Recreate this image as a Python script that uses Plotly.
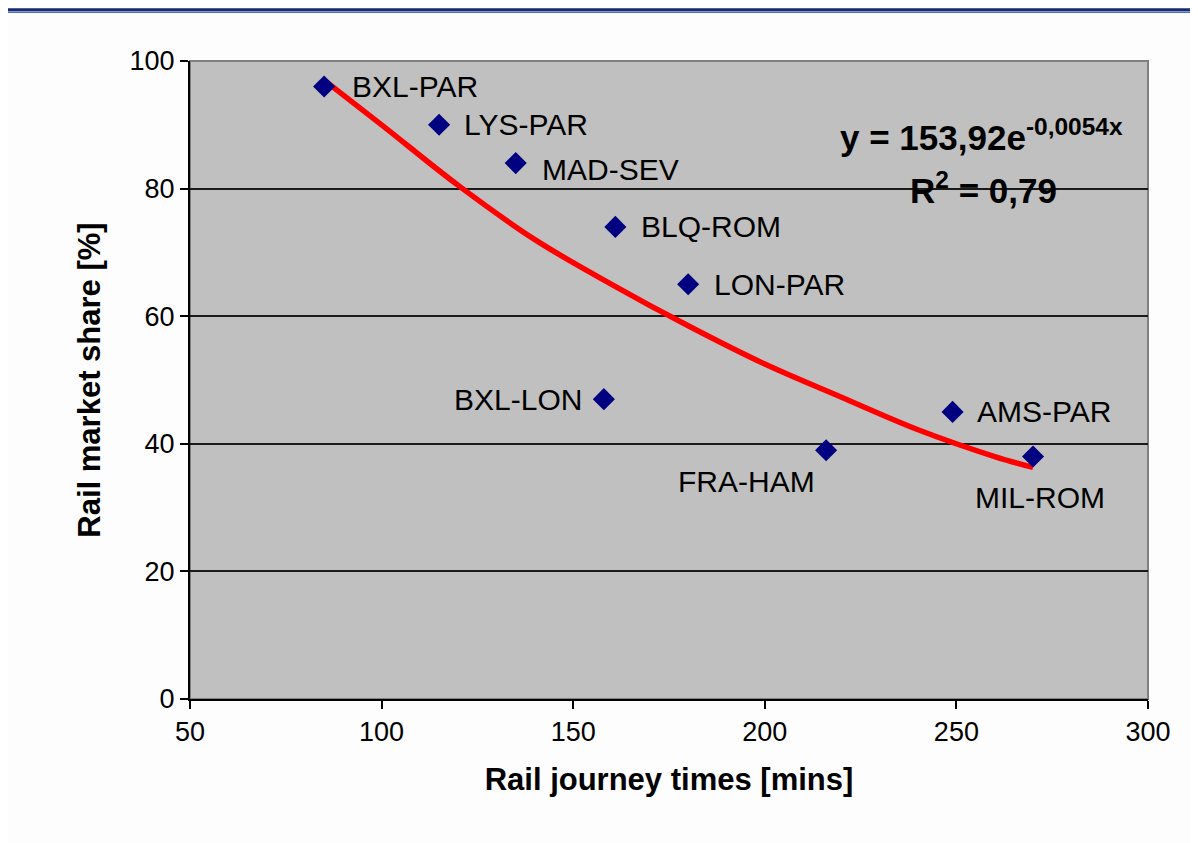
import plotly.graph_objects as go

routes = ["BXL-PAR", "LYS-PAR", "MAD-SEV", "BLQ-ROM", "LON-PAR", "BXL-LON", "FRA-HAM", "AMS-PAR", "MIL-ROM"]
journey_mins = [85, 115, 135, 161, 180, 158, 216, 249, 270]
market_share = [96, 90, 84, 74, 65, 47, 39, 45, 38]

# trend line as drawn in the picture
trend_x = [85, 100, 120, 140, 160, 180, 200, 220, 240, 260, 270]
trend_y = [97, 90, 80.5, 72, 65, 58.5, 52.5, 47.3, 42.2, 38, 36.3]

# label offsets (px) and anchors per route
label_pos = {
    "BXL-PAR": (26, 0, "left"),
    "LYS-PAR": (23, 0, "left"),
    "MAD-SEV": (24, -6, "left"),
    "BLQ-ROM": (24, 0, "left"),
    "LON-PAR": (24, 0, "left"),
    "BXL-LON": (-20, 0, "right"),
    "FRA-HAM": (-80, -31, "center"),
    "AMS-PAR": (22, 0, "left"),
    "MIL-ROM": (7, -41, "center"),
}

fig = go.Figure()
fig.add_trace(go.Scatter(
    x=trend_x, y=trend_y, mode="lines",
    line=dict(color="#ff0000", width=5.5, shape="spline"),
    hoverinfo="skip", showlegend=False))
fig.add_trace(go.Scatter(
    x=journey_mins, y=market_share, mode="markers",
    marker=dict(symbol="diamond", size=17, color="#000080"),
    showlegend=False))

font = "Liberation Sans, Arial, sans-serif"
for r, xv, yv in zip(routes, journey_mins, market_share):
    dx, dy, anc = label_pos[r]
    fig.add_annotation(x=xv, y=yv, text=r, showarrow=False, xanchor=anc,
                       yanchor="middle", xshift=dx, yshift=dy,
                       font=dict(family=font, size=30, color="#000000"))

fig.add_annotation(xref="paper", yref="paper", x=0.676, y=0.884,
                   text="<b>y = 153,92e<sup>-0,0054x</sup></b>", showarrow=False,
                   xanchor="left", yanchor="middle",
                   font=dict(family=font, size=35, color="#000000"))
fig.add_annotation(xref="paper", yref="paper", x=0.749, y=0.801,
                   text="<b>R<sup>2</sup> = 0,79</b>", showarrow=False,
                   xanchor="left", yanchor="middle",
                   font=dict(family=font, size=35, color="#000000"))

# plot-area border (gray) and top blue rule
fig.add_shape(type="rect", xref="paper", yref="paper", x0=0, x1=1, y0=0, y1=1,
              line=dict(color="#808080", width=2), layer="below")
fig.add_shape(type="line", xref="paper", yref="paper", x0=-0.19, x1=1.05,
              y0=1.0805, y1=1.0805, line=dict(color="#1a2a6c", width=3))
fig.add_shape(type="line", xref="paper", yref="paper", x0=-0.19, x1=1.05,
              y0=1.0765, y1=1.0765, line=dict(color="#4a6fc0", width=1.5))

fig.update_layout(
    width=1198, height=843,
    margin=dict(l=182, r=58, t=53, b=152),
    paper_bgcolor="#fdfdfd", plot_bgcolor="#c0c0c0",
    font=dict(family=font, size=27, color="#000000"),
    xaxis=dict(range=[50, 300], dtick=50, tick0=50, showgrid=False,
               showline=True, linecolor="#000000", linewidth=2,
               ticks="outside", ticklen=8, tickcolor="#000000", tickwidth=2,
               tickfont=dict(size=27), zeroline=False,
               title=dict(text="<b>Rail journey times [mins]</b>",
                          font=dict(size=31), standoff=22)),
    yaxis=dict(range=[0, 100], dtick=20, showgrid=True, gridcolor="#1a1a1a",
               gridwidth=1.5, showline=True, linecolor="#000000", linewidth=2,
               ticks="outside", ticklen=8, tickcolor="#000000", tickwidth=2,
               tickfont=dict(size=27), zeroline=False,
               title=dict(text="<b>Rail market share [%]</b>",
                          font=dict(size=31), standoff=20)),
)

fig.write_html("out.html")
